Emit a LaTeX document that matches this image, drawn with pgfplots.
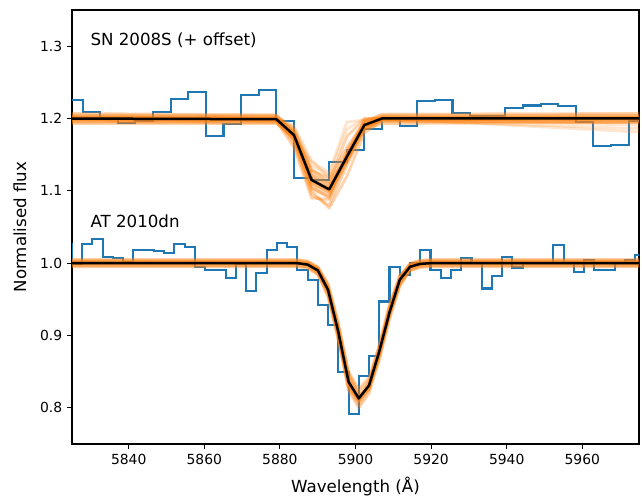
\documentclass[border=0pt]{standalone}
\usepackage{fontspec}
\setmainfont{DejaVu Sans}
\usepackage{pgfplots}
\pgfplotsset{compat=1.18}
\definecolor{tabblue}{HTML}{1F77B4}
\definecolor{taborange}{HTML}{FF7F0E}
\begin{document}
\begin{tikzpicture}
\begin{axis}[
  width=408.24pt, height=312.48pt, scale only axis,
  xmin=5825, xmax=5975, ymin=0.75, ymax=1.35,
  xtick={5840,5860,5880,5900,5920,5940,5960},
  ytick={0.8,0.9,1.0,1.1,1.2,1.3},
  xtick pos=lower, ytick pos=left,
  tick align=outside, major tick length=3.5pt,
  every tick/.style={black, line width=0.8pt},
  axis line style={line width=0.8pt},
  /pgf/number format/assume math mode=true,
  x tick label style={/pgf/number format/1000 sep={}, font=\fontsize{10}{12}\selectfont},
  y tick label style={/pgf/number format/.cd, fixed, precision=1, fixed zerofill, /tikz/.cd, font=\fontsize{10}{12}\selectfont},
  xlabel={Wavelength (Å)}, ylabel={Normalised flux},
  every axis x label/.style={at={(axis description cs:0.5,-0.097)}, anchor=center, font=\fontsize{12}{14}\selectfont},
  every axis y label/.style={at={(axis description cs:-0.0917,0.5)}, anchor=center, rotate=90, font=\fontsize{12}{14}\selectfont},
  od/.style={draw=taborange, opacity=0.34, line width=2pt, line join=round},
]
% top spectrum (SN 2008S + offset)
\addplot[const plot, tabblue, line width=1.5pt] coordinates {
(5823.14,1.226) (5827.80,1.209) (5832.46,1.201) (5837.12,1.194) (5841.78,1.197) (5846.44,1.209) (5851.10,1.227) (5855.76,1.236) (5860.42,1.176) (5865.08,1.193) (5869.74,1.233) (5874.40,1.240) (5879.06,1.196) (5883.72,1.118) (5888.38,1.115) (5893.04,1.140) (5897.70,1.156) (5902.36,1.186) (5907.02,1.200) (5911.68,1.190) (5916.34,1.224) (5921.00,1.225) (5925.66,1.207) (5930.32,1.203) (5934.98,1.203) (5939.64,1.215) (5944.30,1.218) (5948.96,1.220) (5953.62,1.217) (5958.28,1.195) (5962.94,1.162) (5967.60,1.163) (5972.26,1.197) (5976.92,1.197)};
% bottom spectrum (AT 2010dn)
\addplot[const plot, tabblue, line width=1.5pt] coordinates {
(5822.28,1.027) (5824.99,0.999) (5827.70,1.026) (5830.41,1.033) (5833.12,1.008) (5835.83,1.007) (5838.54,1.001) (5841.25,1.018) (5843.96,1.018) (5846.67,1.017) (5849.38,1.014) (5852.09,1.027) (5854.80,1.022) (5857.51,0.995) (5860.22,0.990) (5862.93,0.990) (5865.64,0.980) (5868.35,0.999) (5871.06,0.962) (5873.77,0.986) (5876.48,1.018) (5879.19,1.028) (5881.90,1.022) (5884.61,0.991) (5887.32,0.977) (5890.03,0.942) (5892.74,0.914) (5895.45,0.850) (5898.16,0.792) (5900.87,0.844) (5903.58,0.872) (5906.29,0.947) (5909.00,0.995) (5911.71,0.983) (5914.42,1.000) (5917.13,1.018) (5919.84,0.991) (5922.55,0.979) (5925.26,0.990) (5927.97,1.007) (5930.68,1.000) (5933.39,0.965) (5936.10,0.982) (5938.81,1.008) (5941.52,0.994) (5944.23,1.000) (5946.94,1.000) (5949.65,1.000) (5952.36,1.025) (5955.07,1.000) (5957.78,0.988) (5960.49,1.004) (5963.20,0.990) (5965.91,0.990) (5968.62,1.000) (5971.33,1.005) (5974.04,1.011) (5976.75,1.011)};
% posterior draws, top
\addplot[od] coordinates {(5820,1.202) (5879.06,1.201) (5883.72,1.180) (5888.38,1.112) (5893.04,1.098) (5897.70,1.150) (5902.36,1.193) (5907.02,1.202) (5980,1.202)};
\addplot[od] coordinates {(5820,1.198) (5879.06,1.197) (5883.72,1.170) (5888.38,1.105) (5893.04,1.090) (5897.70,1.140) (5902.36,1.188) (5907.02,1.198) (5980,1.198)};
\addplot[od] coordinates {(5820,1.205) (5879.06,1.204) (5883.72,1.185) (5888.38,1.125) (5893.04,1.110) (5897.70,1.155) (5902.36,1.197) (5907.02,1.204) (5980,1.205)};
\addplot[od] coordinates {(5820,1.195) (5879.06,1.194) (5883.72,1.172) (5888.38,1.110) (5893.04,1.100) (5897.70,1.145) (5902.36,1.186) (5907.02,1.195) (5980,1.196)};
\addplot[od] coordinates {(5820,1.200) (5879.06,1.199) (5883.72,1.165) (5888.38,1.095) (5893.04,1.080) (5897.70,1.135) (5902.36,1.185) (5907.02,1.199) (5980,1.200)};
\addplot[od] coordinates {(5820,1.201) (5879.06,1.200) (5883.72,1.182) (5888.38,1.128) (5893.04,1.118) (5897.70,1.160) (5902.36,1.195) (5907.02,1.201) (5980,1.201)};
\addplot[od] coordinates {(5820,1.197) (5879.06,1.196) (5883.72,1.160) (5888.38,1.090) (5893.04,1.088) (5897.70,1.150) (5902.36,1.190) (5907.02,1.197) (5980,1.194)};
\addplot[od] coordinates {(5820,1.203) (5879.06,1.202) (5883.72,1.178) (5888.38,1.120) (5893.04,1.105) (5897.70,1.147) (5902.36,1.193) (5907.02,1.203) (5980,1.203)};
\addplot[od] coordinates {(5820,1.199) (5879.06,1.198) (5883.72,1.176) (5888.38,1.118) (5893.04,1.100) (5897.70,1.142) (5902.36,1.189) (5907.02,1.199) (5980,1.199)};
\addplot[od, opacity=0.2] coordinates {(5820,1.196) (5879.06,1.195) (5883.72,1.175) (5888.38,1.140) (5893.04,1.125) (5897.70,1.195) (5902.36,1.198) (5907.02,1.198) (5980,1.185)};
\addplot[od, opacity=0.2] coordinates {(5820,1.204) (5879.06,1.203) (5883.72,1.188) (5888.38,1.135) (5893.04,1.122) (5897.70,1.185) (5902.36,1.200) (5907.02,1.200) (5980,1.190)};
\addplot[od] coordinates {(5820,1.200) (5879.06,1.199) (5883.72,1.170) (5888.38,1.100) (5893.04,1.076) (5897.70,1.120) (5902.36,1.180) (5907.02,1.198) (5980,1.200)};
\addplot[od] coordinates {(5820,1.202) (5879.06,1.200) (5883.72,1.184) (5888.38,1.130) (5893.04,1.112) (5897.70,1.175) (5902.36,1.199) (5907.02,1.201) (5980,1.201)};
\addplot[od] coordinates {(5820,1.193) (5879.06,1.193) (5883.72,1.174) (5888.38,1.108) (5893.04,1.095) (5897.70,1.140) (5902.36,1.184) (5907.02,1.193) (5980,1.195)};
\addplot[od] coordinates {(5820,1.207) (5879.06,1.205) (5883.72,1.180) (5888.38,1.115) (5893.04,1.104) (5897.70,1.150) (5902.36,1.196) (5907.02,1.206) (5980,1.207)};
\addplot[od, opacity=0.2] coordinates {(5820,1.200) (5879.06,1.200) (5883.72,1.190) (5888.38,1.142) (5893.04,1.118) (5897.70,1.140) (5902.36,1.200) (5907.02,1.200) (5980,1.180)};
\addplot[od] coordinates {(5820,1.201) (5879.06,1.200) (5883.72,1.172) (5888.38,1.103) (5893.04,1.092) (5897.70,1.152) (5902.36,1.192) (5907.02,1.200) (5980,1.201)};
\addplot[od] coordinates {(5820,1.198) (5879.06,1.197) (5883.72,1.179) (5888.38,1.122) (5893.04,1.108) (5897.70,1.148) (5902.36,1.188) (5907.02,1.198) (5980,1.199)};
\addplot[od] coordinates {(5820,1.200) (5879.06,1.200) (5883.72,1.176) (5888.38,1.114) (5893.04,1.101) (5897.70,1.146) (5902.36,1.190) (5907.02,1.200) (5980,1.200)};
% posterior draws, bottom
\addplot[od] coordinates {(5820,1.003) (5884.61,1.003) (5887.32,1.001) (5890.03,0.993) (5892.74,0.966) (5895.45,0.908) (5898.16,0.839) (5900.87,0.816) (5903.58,0.834) (5906.29,0.881) (5909.00,0.938) (5911.71,0.980) (5914.42,0.998) (5917.13,1.002) (5919.84,1.003) (5980,1.003)};
\addplot[od] coordinates {(5820,0.997) (5884.61,0.997) (5887.32,0.995) (5890.03,0.987) (5892.74,0.960) (5895.45,0.902) (5898.16,0.833) (5900.87,0.810) (5903.58,0.828) (5906.29,0.875) (5909.00,0.932) (5911.71,0.974) (5914.42,0.992) (5917.13,0.996) (5919.84,0.997) (5980,0.997)};
\addplot[od] coordinates {(5820,1.000) (5884.61,1.000) (5887.32,0.999) (5890.03,0.994) (5892.74,0.972) (5895.45,0.918) (5898.16,0.848) (5900.87,0.818) (5903.58,0.826) (5906.29,0.866) (5909.00,0.922) (5911.71,0.968) (5914.42,0.992) (5917.13,0.998) (5919.84,1.000) (5980,1.000)};
\addplot[od] coordinates {(5820,1.001) (5884.61,1.001) (5887.32,0.998) (5890.03,0.986) (5892.74,0.953) (5895.45,0.893) (5898.16,0.828) (5900.87,0.810) (5903.58,0.836) (5906.29,0.888) (5909.00,0.944) (5911.71,0.983) (5914.42,0.997) (5917.13,1.000) (5919.84,1.001) (5980,1.001)};
\addplot[od] coordinates {(5820,1.004) (5884.61,1.004) (5887.32,1.002) (5890.03,0.995) (5892.74,0.970) (5895.45,0.915) (5898.16,0.850) (5900.87,0.826) (5903.58,0.842) (5906.29,0.886) (5909.00,0.940) (5911.71,0.981) (5914.42,0.999) (5917.13,1.003) (5919.84,1.004) (5980,1.004)};
\addplot[od] coordinates {(5820,0.996) (5884.61,0.996) (5887.32,0.994) (5890.03,0.985) (5892.74,0.955) (5895.45,0.895) (5898.16,0.824) (5900.87,0.800) (5903.58,0.820) (5906.29,0.868) (5909.00,0.926) (5911.71,0.970) (5914.42,0.990) (5917.13,0.995) (5919.84,0.996) (5980,0.996)};
\addplot[od] coordinates {(5820,1.002) (5884.61,1.002) (5887.32,1.000) (5890.03,0.991) (5892.74,0.962) (5895.45,0.902) (5898.16,0.832) (5900.87,0.808) (5903.58,0.828) (5906.29,0.876) (5909.00,0.934) (5911.71,0.977) (5914.42,0.997) (5917.13,1.001) (5919.84,1.002) (5980,1.002)};
\addplot[od] coordinates {(5820,0.999) (5884.61,0.999) (5887.32,0.998) (5890.03,0.992) (5892.74,0.968) (5895.45,0.912) (5898.16,0.842) (5900.87,0.815) (5903.58,0.829) (5906.29,0.872) (5909.00,0.928) (5911.71,0.972) (5914.42,0.993) (5917.13,0.998) (5919.84,0.999) (5980,0.999)};
\addplot[od] coordinates {(5820,1.005) (5884.61,1.005) (5887.32,1.003) (5890.03,0.994) (5892.74,0.964) (5895.45,0.904) (5898.16,0.834) (5900.87,0.812) (5903.58,0.832) (5906.29,0.880) (5909.00,0.939) (5911.71,0.982) (5914.42,1.000) (5917.13,1.004) (5919.84,1.005) (5980,1.005)};
\addplot[od] coordinates {(5820,0.995) (5884.61,0.995) (5887.32,0.993) (5890.03,0.984) (5892.74,0.958) (5895.45,0.900) (5898.16,0.832) (5900.87,0.809) (5903.58,0.826) (5906.29,0.872) (5909.00,0.928) (5911.71,0.970) (5914.42,0.989) (5917.13,0.994) (5919.84,0.995) (5980,0.995)};
\addplot[od] coordinates {(5820,1.001) (5884.61,1.001) (5887.32,1.000) (5890.03,0.990) (5892.74,0.960) (5895.45,0.898) (5898.16,0.826) (5900.87,0.804) (5903.58,0.825) (5906.29,0.874) (5909.00,0.933) (5911.71,0.977) (5914.42,0.996) (5917.13,1.000) (5919.84,1.001) (5980,1.001)};
\addplot[od] coordinates {(5820,1.000) (5884.61,1.000) (5887.32,0.999) (5890.03,0.992) (5892.74,0.967) (5895.45,0.912) (5898.16,0.845) (5900.87,0.822) (5903.58,0.838) (5906.29,0.882) (5909.00,0.937) (5911.71,0.978) (5914.42,0.996) (5917.13,0.999) (5919.84,1.000) (5980,1.000)};
\addplot[od] coordinates {(5820,1.000) (5884.61,1.000) (5887.32,0.998) (5890.03,0.989) (5892.74,0.962) (5895.45,0.904) (5898.16,0.835) (5900.87,0.812) (5903.58,0.830) (5906.29,0.877) (5909.00,0.933) (5911.71,0.977) (5914.42,0.995) (5917.13,0.999) (5919.84,1.000) (5980,1.000)};
% best-fit models
\addplot[black, line width=1.8pt, line join=round] coordinates {(5820,1.200) (5879.06,1.199) (5883.72,1.177) (5888.38,1.115) (5893.04,1.102) (5897.70,1.147) (5902.36,1.191) (5907.02,1.200) (5980,1.200)};
\addplot[black, line width=1.8pt, line join=round] coordinates {(5820,1.000) (5884.61,1.000) (5887.32,0.998) (5890.03,0.990) (5892.74,0.963) (5895.45,0.905) (5898.16,0.836) (5900.87,0.813) (5903.58,0.831) (5906.29,0.878) (5909.00,0.932) (5911.71,0.977) (5914.42,0.995) (5917.13,0.999) (5919.84,1.000) (5980,1.000)};
\node[anchor=west, font=\fontsize{12}{14}\selectfont] at (axis cs:5828.6,1.308) {SN 2008S (+ offset)};
\node[anchor=west, font=\fontsize{12}{14}\selectfont] at (axis cs:5828.6,1.058) {AT 2010dn};
\end{axis}
\pgfresetboundingbox
\useasboundingbox ([shift={(-51.84pt,-37.44pt)}]current axis.south west) rectangle ([shift={(2.16pt,7.2pt)}]current axis.north east);
\end{tikzpicture}
\end{document}
